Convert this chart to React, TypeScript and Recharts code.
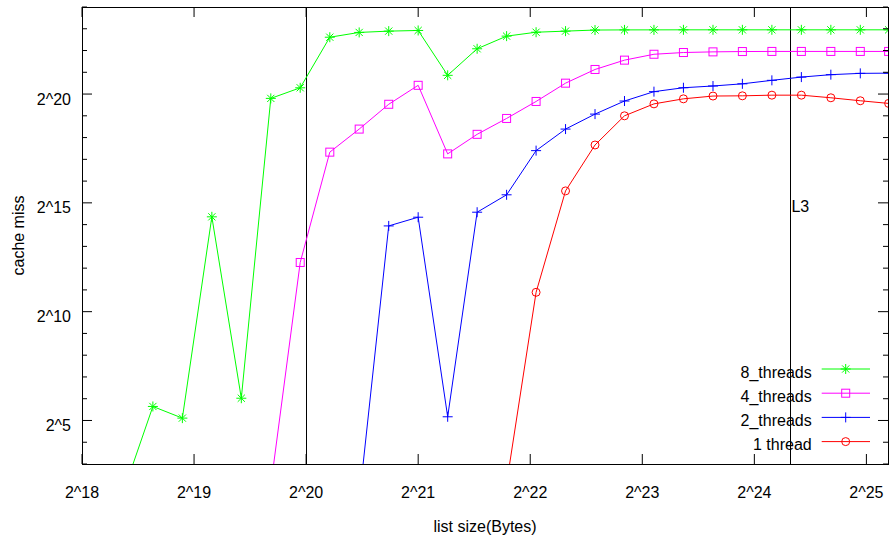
import React from 'react';
import { LineChart, Line, XAxis, YAxis, ReferenceLine, ReferenceArea, ReferenceDot, Legend } from 'recharts';

// list size in bytes (step ~1.2x)
const sizes = [338700, 406400, 487700, 585300, 702300, 842800, 1011000, 1214000, 1456000, 1748000, 2097000,
  2517000, 3020000, 3624000, 4349000, 5218000, 6262000, 7514000, 9017000, 10820000, 12990000, 15580000,
  18700000, 22440000, 26930000, 32310000, 38500000];

// cache misses per run, null = not measured / zero
const threads8 = [3.3, 50, 34.5, 21000, 65, 912800, 1280000, 6407000, 7462000, 7780000, 7943000, 1904000,
  4434000, 6633000, 7514000, 7780000, 8054000, 8090000, 8100000, 8110000, 8110000, 8110000, 8110000, 8110000,
  8110000, 8110000, 8110000];
const threads4 = [null, null, null, null, null, 4, 4905, 164800, 343500, 757000, 1385000, 155900, 290700, 482000,
  828000, 1483000, 2294000, 3088000, 3724000, 3936000, 4019000, 4060000, 4075000, 4075000, 4075000, 4075000, 4075000];
const threads2 = [null, null, null, null, null, null, null, null, 2.5, 15720, 20740, 36, 24320, 42340, 172900,
  343500, 553700, 839600, 1132000, 1282000, 1355000, 1452000, 1623000, 1800000, 1944000, 2026000, 2040000];
const threads1 = [null, null, null, null, null, null, null, null, null, null, null, null, null, 4.3, 1897, 47960,
  207000, 524300, 767000, 900400, 984000, 991000, 1012000, 1012000, 931000, 847000, 778000];

const xTicks = [262144, 524288, 1048576, 2097152, 4194304, 8388608, 16777216, 33554432];
const yTicks = [8, 16, 32, 64, 128, 256, 512, 1024, 2048, 4096, 8192, 16384, 32768, 65536, 131072, 262144,
  524288, 1048576, 2097152, 4194304, 8388608, 16777216];
const X_MIN = 262144;
const X_MAX = 38350000;
const Y_MIN = 8;
const Y_MAX = 16777216;
const L2_SIZE = 1048576;
const L3_SIZE = 20971520;
const L3_LABEL_Y = 32768;

const data = sizes.map((size, i) => ({
  size,
  t8: threads8[i],
  t4: threads4[i],
  t2: threads2[i],
  t1: threads1[i],
}));

const W = 889;
const H = 542;
const MARGIN = { top: 7, right: 1, left: 22, bottom: 48 };
const TOP = MARGIN.top;
const BOTTOM = H - MARGIN.bottom - 30;
const LEFT = MARGIN.left + 60;
const RIGHT = W - MARGIN.right;
const FONT = '"Liberation Sans", Arial, sans-serif';

const SERIES = [
  { key: 't8', name: '8_threads', color: '#00ff00', marker: 'star' },
  { key: 't4', name: '4_threads', color: '#ff00ff', marker: 'square' },
  { key: 't2', name: '2_threads', color: '#0000ff', marker: 'plus' },
  { key: 't1', name: '1 thread', color: '#ff0000', marker: 'circle' },
];

function Marker({ type, cx, cy, color }: any) {
  if (type === 'star') {
    return (
      <g stroke={color} strokeWidth={1} fill="none">
        <line x1={cx - 5} x2={cx + 5} y1={cy} y2={cy} />
        <line x1={cx} x2={cx} y1={cy - 5} y2={cy + 5} />
        <line x1={cx - 3.6} x2={cx + 3.6} y1={cy - 3.6} y2={cy + 3.6} />
        <line x1={cx - 3.6} x2={cx + 3.6} y1={cy + 3.6} y2={cy - 3.6} />
      </g>
    );
  }
  if (type === 'square') {
    return <rect x={cx - 4} y={cy - 4} width={8} height={8} stroke={color} fill="none" strokeWidth={1} />;
  }
  if (type === 'plus') {
    return (
      <g stroke={color} strokeWidth={1}>
        <line x1={cx - 5} x2={cx + 5} y1={cy} y2={cy} />
        <line x1={cx} x2={cx} y1={cy - 5} y2={cy + 5} />
      </g>
    );
  }
  return <circle cx={cx} cy={cy} r={4} stroke={color} fill="none" strokeWidth={1} />;
}

const makeDot = (type: string, color: string) => (props: any) => {
  const { cx, cy, index } = props;
  if (cx == null || cy == null || Number.isNaN(cy)) return <g key={`d-${type}-${index}`} />;
  return (
    <g key={`d-${type}-${index}`}>
      <Marker type={type} cx={cx} cy={cy} color={color} />
    </g>
  );
};

function XTick({ x, payload }: any) {
  const exp = Math.round(Math.log2(payload.value));
  return (
    <g>
      <line x1={x} x2={x} y1={BOTTOM} y2={BOTTOM - 10} stroke="#000" />
      <line x1={x} x2={x} y1={TOP} y2={TOP + 10} stroke="#000" />
      <text x={x} y={498} textAnchor="middle" fontSize={16} fontFamily={FONT} fill="#000">
        {`2^${exp}`}
      </text>
    </g>
  );
}

function YTick({ y, payload }: any) {
  const exp = Math.round(Math.log2(payload.value));
  const major = exp % 5 === 0;
  const len = major ? 10 : 5;
  return (
    <g>
      <line x1={LEFT} x2={LEFT + len} y1={y} y2={y} stroke="#000" />
      <line x1={RIGHT} x2={RIGHT - len} y1={y} y2={y} stroke="#000" />
      {major && (
        <text x={71} y={y + 10.5} textAnchor="end" fontSize={16} fontFamily={FONT} fill="#000">
          {`2^${exp}`}
        </text>
      )}
    </g>
  );
}

function LegendBox() {
  const rowY = [17, 41.2, 65.4, 89.6];
  return (
    <svg width={190} height={100} style={{ overflow: 'visible' }}>
      {SERIES.map((s, i) => (
        <g key={s.key}>
          <text x={121.7} y={rowY[i] + 8.5} textAnchor="end" fontSize={16} fontFamily={FONT} fill="#000">
            {s.name}
          </text>
          <line x1={131.7} x2={180} y1={rowY[i]} y2={rowY[i]} stroke={s.color} strokeWidth={1} />
          <Marker type={s.marker} cx={155.7} cy={rowY[i]} color={s.color} />
        </g>
      ))}
    </svg>
  );
}

export default function App() {
  return (
    <div style={{ position: 'absolute', left: 0, top: 0, width: W, height: H, background: '#fff' }}>
      <LineChart width={W} height={H} data={data} margin={MARGIN}>
        <XAxis
          dataKey="size"
          type="number"
          scale="log"
          domain={[X_MIN, X_MAX]}
          allowDataOverflow
          ticks={xTicks}
          interval={0}
          axisLine={false}
          tickLine={false}
          tick={<XTick />}
          height={30}
          label={{
            content: (p: any) => (
              <text x={p.viewBox.x + p.viewBox.width / 2} y={532} textAnchor="middle" fontSize={16} fontFamily={FONT} fill="#000">
                list size(Bytes)
              </text>
            ),
          }}
        />
        <YAxis
          type="number"
          scale="log"
          domain={[Y_MIN, Y_MAX]}
          allowDataOverflow
          ticks={yTicks}
          interval={0}
          axisLine={false}
          tickLine={false}
          tick={<YTick />}
          width={60}
          label={{
            content: (p: any) => {
              const cy = p.viewBox.y + p.viewBox.height / 2;
              return (
                <text x={23.5} y={cy} transform={`rotate(-90, 23.5, ${cy})`} textAnchor="middle" fontSize={16} fontFamily={FONT} fill="#000">
                  cache miss
                </text>
              );
            },
          }}
        />
        <ReferenceArea x1={X_MIN} x2={X_MAX} y1={Y_MIN} y2={Y_MAX} fill="none" fillOpacity={0} stroke="#000" strokeWidth={1} shapeRendering="crispEdges" />
        <ReferenceLine x={L2_SIZE} stroke="#000" strokeWidth={1} shapeRendering="crispEdges" />
        <ReferenceLine x={L3_SIZE} stroke="#000" strokeWidth={1} shapeRendering="crispEdges" />
        <ReferenceDot
          x={L3_SIZE}
          y={L3_LABEL_Y}
          r={0}
          shape={(p: any) => (
            <text x={p.cx + 1} y={p.cy + 9.5} fontSize={16} fontFamily={FONT} fill="#000">
              L3
            </text>
          )}
        />
        {SERIES.map((s) => (
          <Line
            key={s.key}
            type="linear"
            dataKey={s.key}
            name={s.name}
            stroke={s.color}
            strokeWidth={1}
            dot={makeDot(s.marker, s.color)}
            activeDot={false}
            connectNulls={false}
            isAnimationActive={false}
          />
        ))}
        <Legend
          layout="horizontal"
          verticalAlign="middle"
          align="center"
          content={() => <LegendBox />}
          wrapperStyle={{ left: 690, top: 352, width: 190, height: 100 }}
        />
      </LineChart>
    </div>
  );
}
